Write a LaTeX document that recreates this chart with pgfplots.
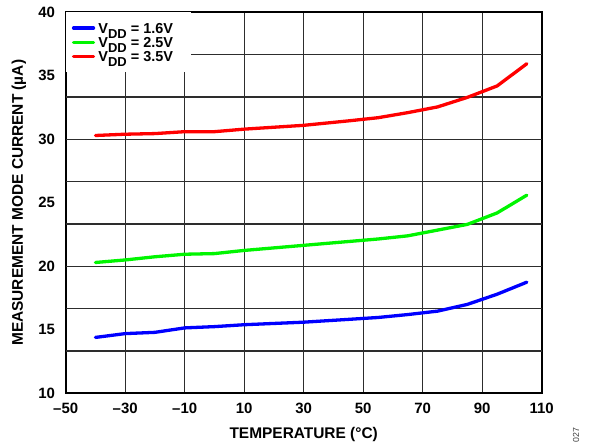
\documentclass[border=0pt]{standalone}
\usepackage{fontspec}
\setmainfont{Liberation Sans}
\usepackage{pgfplots}
\pgfplotsset{compat=1.18}
\definecolor{gridc}{RGB}{45,45,45}
\definecolor{cblue}{RGB}{0,0,255}
\definecolor{cgreen}{RGB}{0,245,0}
\definecolor{cred}{RGB}{255,0,0}
\newcommand\DD{\raisebox{-5bp}[0pt][0pt]{\fontsize{13}{14}\selectfont DD}}
\newcommand\LE[2][4bp]{\raisebox{0pt}[12.5bp][#1]{\makebox[87bp][l]{#2}}}
\begin{document}
\begin{tikzpicture}
\useasboundingbox (-65.7bp,-52.7bp) rectangle (525.3bp,393.3bp);
\begin{axis}[
  at={(0,0)}, anchor=south west,
  scale only axis, width=476bp, height=381bp,
  xmin=-50, xmax=110, ymin=10, ymax=40,
  xtick={-50,-30,...,110},
  xticklabels={\textendash50,\textendash30,\textendash10,10,30,50,70,90,110},
  ytick={10,15,...,40},
  yticklabels={10,15,20,25,30,35,40},
  extra y ticks={13.3333,16.6667,20,23.3333,26.6667,30,33.3333,36.6667},
  extra y tick labels={},
  extra y tick style={grid=major, major tick length=0pt},
  xmajorgrids, ymajorgrids=false,
  major tick length=0pt,
  grid style={gridc, line width=1.3bp},
  axis line style={black, line width=2bp},
  tick label style={font=\fontsize{15}{18}\selectfont\bfseries},
  xticklabel style={anchor=north, inner sep=0pt, yshift=-9.5bp},
  yticklabel style={anchor=east, inner sep=0pt, xshift=-10.5bp},
  label style={font=\fontsize{15.5}{18}\selectfont\bfseries},
  xlabel={TEMPERATURE (°C)},
  ylabel={MEASUREMENT MODE CURRENT (µA)},
  xlabel style={at={(axis description cs:0.5,-0.1094)}, anchor=center},
  ylabel style={at={(axis description cs:-0.0981,0.5)}, anchor=center},
  legend style={at={(0,1)}, anchor=north west, draw=none, fill=white,
    font=\fontsize{14.5}{16}\selectfont\bfseries,
    inner xsep=6bp, inner ysep=8.5bp,
    nodes={inner sep=0pt},
    row sep=0.2bp, column sep=3.3bp},
  legend cell align=left,
  legend image code/.code={\draw[#1, line width=3.3bp] (0bp,0bp) -- (20bp,0bp);},
  every axis plot/.append style={line width=3.3bp, line join=round, line cap=round},
]
\addplot[cblue] coordinates {(-40,14.4)(-30,14.7)(-20,14.8)(-10,15.15)(0,15.25)(10,15.4)(20,15.5)(30,15.6)(45,15.82)(55,15.97)(65,16.2)(75,16.47)(85,17.0)(95,17.8)(105,18.75)};
\addlegendentry{\LE{V\DD{} = 1.6V}}
\addplot[cgreen] coordinates {(-40,20.3)(-30,20.5)(-20,20.75)(-10,20.95)(0,21.0)(10,21.25)(20,21.45)(30,21.65)(45,21.95)(55,22.15)(65,22.4)(75,22.85)(85,23.3)(95,24.2)(105,25.6)};
\addlegendentry{\LE{V\DD{} = 2.5V}}
\addplot[cred] coordinates {(-40,30.3)(-30,30.4)(-20,30.45)(-10,30.6)(0,30.6)(10,30.8)(20,30.95)(30,31.1)(45,31.45)(55,31.7)(65,32.1)(75,32.55)(85,33.3)(95,34.2)(105,35.95)};
\addlegendentry{\LE[9bp]{V\DD{} = 3.5V}}
\end{axis}
\node[rotate=90, font=\fontsize{8.8}{10}\selectfont, text=black!75] at (510.3bp,-41.7bp) {027};
\end{tikzpicture}
\end{document}
